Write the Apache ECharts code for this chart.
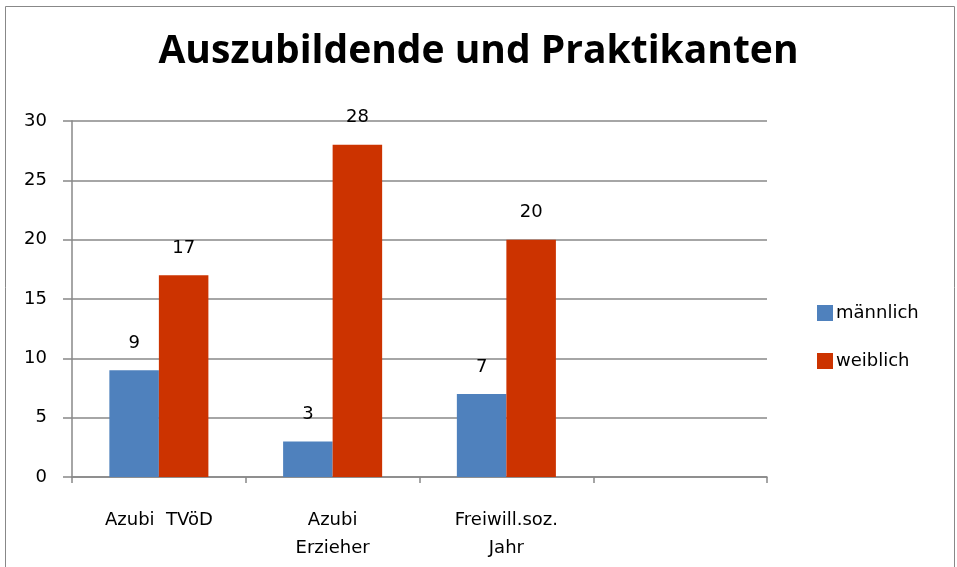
<!DOCTYPE html>
<html><head><meta charset="utf-8">
<script src="https://cdn.jsdelivr.net/npm/echarts@6/dist/echarts.min.js"></script>
<style>html,body{margin:0;padding:0;background:#fff}#c{width:957px;height:567px}</style>
</head><body><div id="c"></div>
<script>
var categories = ['Azubi  TVöD', 'Azubi\nErzieher', 'Freiwill.soz.\nJahr', ''];
var maennlich = [9, 3, 7, null];
var weiblich = [17, 28, 20, null];
var seriesNames = ['männlich', 'weiblich'];
var yTicks = {min: 0, max: 30, interval: 5};

var chart = echarts.init(document.getElementById('c'));
var font = 'DejaVu Sans';
var labelCfg = {show: true, position: 'top', distance: 18, color: '#000', fontFamily: font, fontSize: 18};
chart.setOption({
  animation: false,
  backgroundColor: '#fff',
  graphic: [{type: 'rect', shape: {x: 5.5, y: 6.5, width: 949, height: 600}, style: {fill: 'none', stroke: '#888', lineWidth: 1}, silent: true}],
  title: {text: 'Auszubildende und Praktikanten', left: 'center', top: 27,
    textStyle: {fontFamily: 'Open Sans', fontWeight: 'bold', fontSize: 39, color: '#000'}},
  legend: {orient: 'vertical', left: 812, top: 299, itemWidth: 16, itemHeight: 16, itemGap: 30,
    icon: 'rect', textStyle: {fontFamily: font, fontSize: 18, color: '#000', padding: [0, 0, 0, -2]},
    data: seriesNames},
  grid: {left: 72, right: 190, top: 121, bottom: 90, containLabel: false},
  xAxis: {type: 'category', data: categories,
    axisLine: {lineStyle: {color: '#888', width: 1.5}},
    axisTick: {show: true, length: 6, lineStyle: {color: '#888', width: 1.5}},
    axisLabel: {margin: 29, color: '#000', fontFamily: font, fontSize: 18, lineHeight: 28, interval: 0}},
  yAxis: {type: 'value', min: yTicks.min, max: yTicks.max, interval: yTicks.interval,
    axisLine: {show: true, lineStyle: {color: '#888', width: 1.5}},
    axisTick: {show: true, length: 9, lineStyle: {color: '#888', width: 1.5}},
    splitLine: {lineStyle: {color: '#888', width: 1.5}},
    axisLabel: {margin: 25, color: '#000', fontFamily: font, fontSize: 18}},
  series: [
    {name: seriesNames[0], type: 'bar', data: maennlich, barWidth: '28.5%', barGap: '0%',
      itemStyle: {color: '#4F81BD'}, label: labelCfg},
    {name: seriesNames[1], type: 'bar', data: weiblich, barWidth: '28.5%',
      itemStyle: {color: '#CC3300'}, label: labelCfg}
  ]
});
</script></body></html>
